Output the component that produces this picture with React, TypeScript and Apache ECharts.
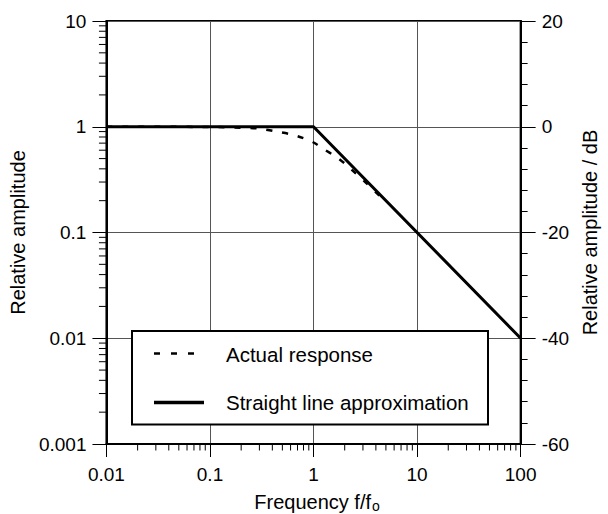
import React, { useEffect, useRef } from "react";
import * as echarts from "echarts";

const xTickLabels = ["0.01", "0.1", "1", "10", "100"];
const yTickLabels = ["0.001", "0.01", "0.1", "1", "10"];
const straightF = [0.01, 1, 100];
const straightA = [1, 1, 0.01];
const actualF = [0.01, 0.1, 0.2, 0.3, 0.44, 0.6, 0.8, 1, 1.27, 1.6, 2, 2.28, 3.05, 4, 5];
const actualA = [1, 0.995, 0.98, 0.96, 0.9, 0.85, 0.78, 0.71, 0.61, 0.53, 0.45, 0.4, 0.31, 0.24, 0.196];
const minorMultipliers = [2, 3, 4, 5, 6, 7, 8, 9];
const xDecades = [0.01, 0.1, 1, 10];
const yDecades = [0.001, 0.01, 0.1, 1];
const legendNames = ["Actual response", "Straight line approximation"];

const FONT = "'Liberation Sans', Arial, sans-serif";
const TICK_FS = 19;
const NAME_FS = 20;
const LEG_FS = 20.5;

function labelFor(labels: string[], minExp: number) {
  return (v: number) => {
    const i = Math.round(Math.log10(v)) - minExp;
    return labels[i] ?? "";
  };
}

export default function App() {
  const ref = useRef<HTMLDivElement>(null);
  useEffect(() => {
    if (!ref.current) return;
    const chart = echarts.init(ref.current, null, { renderer: "svg" });
    const xMinor: number[][] = [];
    xDecades.forEach((d) => minorMultipliers.forEach((m) => xMinor.push([d * m, 0.001])));
    const yMinor: number[][] = [];
    yDecades.forEach((d) => minorMultipliers.forEach((m) => yMinor.push([0.01, d * m])));

    const option: any = {
      animation: false,
      backgroundColor: "#fff",
      textStyle: { fontFamily: FONT },
      grid: {
        left: 106,
        right: 80,
        top: 21,
        bottom: 70,
        show: true,
        borderColor: "#000",
        borderWidth: 2,
        backgroundColor: "transparent",
      },
      xAxis: {
        type: "log",
        logBase: 10,
        min: 0.01,
        max: 100,
        axisLine: { show: true, onZero: false, lineStyle: { color: "#000", width: 2 } },
        axisTick: { show: true, inside: false, length: 13, lineStyle: { color: "#000", width: 1 } },
        axisLabel: {
          margin: 21,
          color: "#000",
          fontSize: TICK_FS,
          fontFamily: FONT,
          formatter: labelFor(xTickLabels, -2),
        },
        splitLine: { show: true, lineStyle: { color: "#555", width: 1 } },
      },
      yAxis: [
        {
          type: "log",
          logBase: 10,
          min: 0.001,
          max: 10,
          position: "left",
          name: "Relative amplitude",
          nameLocation: "middle",
          nameGap: 72,
          nameRotate: 90,
          nameTextStyle: { color: "#000", fontSize: NAME_FS, fontFamily: FONT },
          axisLine: { show: true, lineStyle: { color: "#000", width: 2 } },
          axisTick: { show: true, inside: false, length: 14, lineStyle: { color: "#000", width: 1 } },
          axisLabel: {
            margin: 20,
            color: "#000",
            fontSize: TICK_FS,
            fontFamily: FONT,
            formatter: labelFor(yTickLabels, -3),
          },
          splitLine: { show: true, lineStyle: { color: "#555", width: 1 } },
        },
        {
          type: "value",
          min: -60,
          max: 20,
          interval: 20,
          position: "right",
          name: "Relative amplitude / dB",
          nameLocation: "middle",
          nameGap: 56,
          nameRotate: 90,
          nameTextStyle: { color: "#000", fontSize: NAME_FS, fontFamily: FONT },
          axisLine: { show: true, lineStyle: { color: "#000", width: 2 } },
          axisTick: { show: true, inside: false, length: 15, lineStyle: { color: "#000", width: 1 } },
          minorTick: { show: true, splitNumber: 5, length: 7, lineStyle: { color: "#000", width: 1 } },
          axisLabel: { margin: 21, color: "#000", fontSize: TICK_FS, fontFamily: FONT },
          splitLine: { show: false },
        },
      ],
      series: [
        {
          type: "custom",
          silent: true,
          clip: false,
          xAxisIndex: 0,
          yAxisIndex: 0,
          data: xMinor,
          renderItem: (params: any, api: any) => {
            const p = api.coord([api.value(0), api.value(1)]);
            return {
              type: "line",
              shape: { x1: p[0], y1: p[1], x2: p[0], y2: p[1] + 6.5 },
              style: { stroke: "#000", lineWidth: 1 },
            };
          },
        },
        {
          type: "custom",
          silent: true,
          clip: false,
          xAxisIndex: 0,
          yAxisIndex: 0,
          data: yMinor,
          renderItem: (params: any, api: any) => {
            const p = api.coord([api.value(0), api.value(1)]);
            return {
              type: "line",
              shape: { x1: p[0], y1: p[1], x2: p[0] - 7.5, y2: p[1] },
              style: { stroke: "#000", lineWidth: 1 },
            };
          },
        },
        {
          name: legendNames[1],
          type: "line",
          xAxisIndex: 0,
          yAxisIndex: 0,
          symbol: "none",
          data: straightF.map((f, i) => [f, straightA[i]]),
          lineStyle: { color: "#000", width: 3 },
          z: 3,
        },
        {
          name: legendNames[0],
          type: "line",
          xAxisIndex: 0,
          yAxisIndex: 0,
          symbol: "none",
          smooth: 0.3,
          data: actualF.map((f, i) => [f, actualA[i]]),
          lineStyle: { color: "#000", width: 2.5, type: [6, 10] },
          z: 4,
        },
      ],
      graphic: [
        {
          type: "rect",
          z: 100,
          shape: { x: 132, y: 331, width: 356, height: 93.5 },
          style: { fill: "#fff", stroke: "#000", lineWidth: 2 },
        },
        {
          type: "line",
          z: 101,
          shape: { x1: 154, y1: 353.5, x2: 204, y2: 353.5 },
          style: { stroke: "#000", lineWidth: 2.5, lineDash: [6, 11] },
        },
        {
          type: "text",
          z: 101,
          x: 226,
          y: 354,
          style: {
            text: legendNames[0],
            fill: "#000",
            font: `${LEG_FS}px ${FONT}`,
            verticalAlign: "middle",
          },
        },
        {
          type: "line",
          z: 101,
          shape: { x1: 154, y1: 402.5, x2: 204, y2: 402.5 },
          style: { stroke: "#000", lineWidth: 3.5 },
        },
        {
          type: "text",
          z: 101,
          x: 226,
          y: 402,
          style: {
            text: legendNames[1],
            fill: "#000",
            font: `${LEG_FS}px ${FONT}`,
            verticalAlign: "middle",
          },
        },
        {
          type: "text",
          z: 101,
          x: 371,
          y: 501.5,
          style: {
            text: "Frequency f/f",
            fill: "#000",
            font: `${NAME_FS}px ${FONT}`,
            align: "right",
            verticalAlign: "middle",
          },
        },
        {
          type: "text",
          z: 101,
          x: 372,
          y: 506,
          style: {
            text: "o",
            fill: "#000",
            font: `14px ${FONT}`,
            align: "left",
            verticalAlign: "middle",
          },
        },
      ],
    };
    chart.setOption(option);
    return () => chart.dispose();
  }, []);
  return (
    <div
      ref={ref}
      style={{ position: "fixed", left: 0, top: 0, width: 608, height: 514 }}
    />
  );
}
